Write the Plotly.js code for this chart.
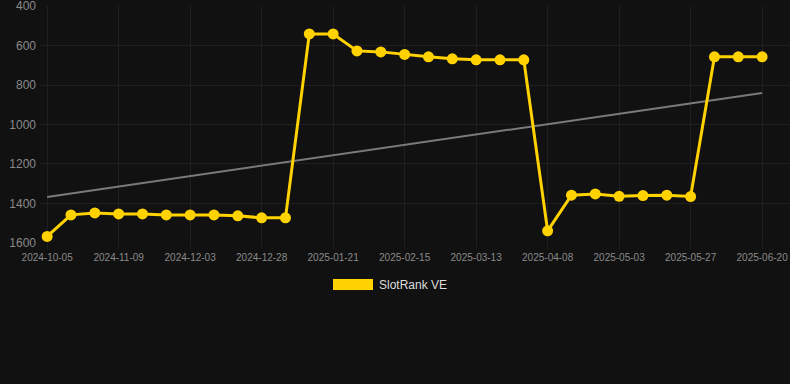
<!DOCTYPE html>
<html>
<head>
<meta charset="utf-8">
<script src="https://cdn.plot.ly/plotly-3.0.1.min.js"></script>
<style>
html,body{margin:0;padding:0;background:#111111;}
#chart{width:790px;height:384px;}
</style>
</head>
<body>
<div id="chart"></div>
<script>
var dates = ["2024-10-05","2024-10-17","2024-10-29","2024-11-09","2024-11-17","2024-11-25","2024-12-03","2024-12-11","2024-12-20","2024-12-28","2025-01-05","2025-01-13","2025-01-21","2025-01-29","2025-02-07","2025-02-15","2025-02-23","2025-03-04","2025-03-13","2025-03-21","2025-03-30","2025-04-08","2025-04-16","2025-04-25","2025-05-03","2025-05-11","2025-05-19","2025-05-27","2025-06-04","2025-06-12","2025-06-20"];
var ranks = [1567,1458,1448,1453,1453,1458,1458,1458,1463,1473,1473,541,541,627,632,645,657,667,672,672,672,1539,1358,1352,1364,1360,1358,1365,657,657,657];
var tickLabels = ["2024-10-05","2024-11-09","2024-12-03","2024-12-28","2025-01-21","2025-02-15","2025-03-13","2025-04-08","2025-05-03","2025-05-27","2025-06-20"];
var trendDates = ["2024-10-05","2025-06-20"];
var trendValues = [1367, 840];
var yTicks = [400,600,800,1000,1200,1400,1600];
var seriesName = "SlotRank VE";

var traces = [
  {
    x: trendDates, y: trendValues, type: "scatter", mode: "lines",
    line: {color: "#7a7a7a", width: 2}, hoverinfo: "skip", showlegend: false
  },
  {
    x: dates, y: ranks, type: "scatter", mode: "lines+markers", name: seriesName,
    line: {color: "#FFD200", width: 3},
    marker: {color: "#FFD200", size: 11},
    showlegend: false
  }
];

var layout = {
  width: 790, height: 384,
  paper_bgcolor: "#111111", plot_bgcolor: "#111111",
  margin: {l: 40, r: 0, t: 6, b: 141},
  font: {family: "Liberation Sans, Arial, sans-serif", color: "#8a8a8a"},
  showlegend: false,
  xaxis: {
    type: "category",
    categoryorder: "array", categoryarray: dates,
    range: [-0.3, 31.17],
    tickmode: "array", tickvals: tickLabels, ticktext: tickLabels,
    tickfont: {size: 10, color: "#8a8a8a"},
    showgrid: true, gridcolor: "#1f1f1f", gridwidth: 1,
    ticks: "outside", ticklen: 5, tickcolor: "#1f1f1f",
    zeroline: false, showline: false, fixedrange: true
  },
  yaxis: {
    range: [1600.5, 399.5],
    tickmode: "array", tickvals: yTicks,
    tickfont: {size: 12, color: "#8a8a8a"},
    ticklabeloverflow: "allow",
    showgrid: true, gridcolor: "#1f1f1f", gridwidth: 1,
    ticks: "", zeroline: false, showline: false, fixedrange: true,
    ticklabelstandoff: 3
  },
  shapes: [
    {type: "rect", xref: "paper", yref: "paper",
     x0: (333-40)/750, x1: (373-40)/750,
     y0: (384-141-290)/237, y1: (384-141-279)/237,
     fillcolor: "#FFD200", line: {width: 0}}
  ],
  annotations: [
    {xref: "paper", yref: "paper", x: (377-40)/750, y: (384-141-285)/237,
     xanchor: "left", yanchor: "middle", showarrow: false,
     text: seriesName, font: {size: 12, color: "#dddddd"}}
  ]
};

Plotly.newPlot("chart", traces, layout, {displayModeBar: false, staticPlot: true});
</script>
</body>
</html>
